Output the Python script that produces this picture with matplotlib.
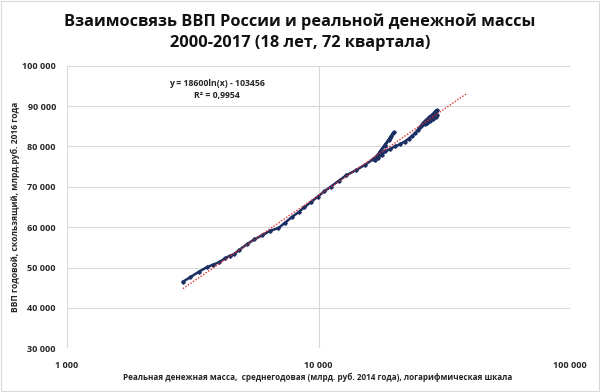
import numpy as np
import matplotlib
matplotlib.use("Agg")
import matplotlib.pyplot as plt
from matplotlib import ticker
from matplotlib.patches import Rectangle

title = "Взаимосвязь ВВП России и реальной денежной массы\n2000-2017 (18 лет, 72 квартала)"
x_label = "Реальная денежная масса,  среднегодовая (млрд. руб. 2014 года), логарифмическая шкала"
y_label = "ВВП годовой, скользящий, млрд.руб. 2016 года"
eq_text = "y = 18600ln(x) - 103456\nR² = 0,9954"

# real money supply (bn rub, 2014 prices), quarterly 2000-2017
money = [2890, 3090, 3350, 3590, 3800, 4020, 4250, 4430, 4620, 4830,
         5190, 5560, 5970, 6400, 6930, 7360, 7810, 8330, 8770, 9300,
         9920, 10560, 11200, 12010, 12890, 14070, 15360, 16470, 17200, 17800,
         18400, 19000, 19500, 20000,
         19800, 19200, 18300, 17500, 17000, 16800,
         17300, 17900, 18400, 19200, 20100, 21000, 22000, 22800, 23500, 24200,
         24800, 25300, 25700, 26200, 26800,
         27500, 28200, 28800, 29300, 29600, 29400, 29000, 28500, 28000, 27300,
         26800, 26500, 27000, 27800, 28600, 29200, 29500]
# GDP, rolling annual (bn rub, 2016 prices)
gdp = [46500, 47600, 49000, 50050, 50700, 51300, 52300, 52870, 53300, 54350,
       55750, 57000, 58000, 59050, 59800, 61100, 62450, 63700, 64900, 66150,
       67550, 68900, 70050, 71450, 72850, 74100, 75500, 76820, 77900, 79200,
       80400, 81600, 82600, 83560,
       83300, 82000, 80200, 78500, 77300, 76700,
       77200, 78000, 78750, 79300, 80000, 80500, 81200, 81900, 82600, 83300,
       84100, 84800, 85400, 86000, 86600,
       87200, 87800, 88300, 88700, 89000, 88900, 88500, 87800, 87000, 86300,
       85800, 85500, 85700, 86200, 86800, 87400, 87900]

trend_a = 18600
trend_b = -103456
trend_range = [2890, 39000]

x_ticks = [1000, 10000, 100000]
y_ticks = [30000, 40000, 50000, 60000, 70000, 80000, 90000, 100000]

plt.rcParams['font.family'] = ['Open Sans', 'DejaVu Sans']

fig = plt.figure(figsize=(6, 3.92), dpi=100)
ax = fig.add_axes([67/600, 1-348.3/392, (570-67)/600, (348.3-65.7)/392])

ax.set_xscale('log')
ax.set_xlim(1000, 100000)
ax.set_ylim(30000, 100000)

fmt = ticker.FuncFormatter(lambda v, p: f"{int(round(v)):,}".replace(",", " "))
ax.xaxis.set_major_locator(ticker.FixedLocator(x_ticks))
ax.xaxis.set_minor_locator(ticker.NullLocator())
ax.yaxis.set_major_locator(ticker.FixedLocator(y_ticks))
ax.xaxis.set_major_formatter(fmt)
ax.yaxis.set_major_formatter(fmt)

ax.grid(True, color='#D9D9D9', linewidth=0.8)
ax.set_axisbelow(True)
for s in ax.spines.values():
    s.set_visible(False)
ax.tick_params(length=0, labelsize=6.5, colors='#262626')
ax.tick_params(axis='x', pad=9)
ax.tick_params(axis='y', pad=8)
for lab in ax.get_xticklabels() + ax.get_yticklabels():
    lab.set_fontweight('bold')

ax.plot(money, gdp, color='#1B2F63', linewidth=1.8, marker='D', markersize=1.8,
        markerfacecolor='#1B2F63', markeredgecolor='#1B2F63', zorder=3)

tx = np.geomspace(trend_range[0], trend_range[1], 200)
ax.plot(tx, trend_a*np.log(tx) + trend_b, color='#E03030', linestyle=(0, (1, 1.2)),
        linewidth=1.0, zorder=4)

fig.text(216.7/600, 1-89.5/392, eq_text, ha='center', va='center', fontsize=6.3,
         fontweight='bold', color='#262626', linespacing=1.3)

fig.text(300/600, 1-32/392, title, ha='center', va='center', fontsize=11.8,
         fontweight='bold', color='#111111', linespacing=1.45)

fig.text(318/600, 1-377/392, x_label, ha='center', va='center', fontsize=5.9,
         fontweight='bold', color='#262626')
fig.text(15/600, 1-207/392, y_label, ha='center', va='center', fontsize=6.1,
         fontweight='bold', color='#262626', rotation=90)

fig.patches.append(Rectangle((0.002, 0.002), 0.996, 0.996, transform=fig.transFigure,
                             fill=False, edgecolor='#D9D9D9', linewidth=0.8))

fig.savefig('out.png', dpi=100)
